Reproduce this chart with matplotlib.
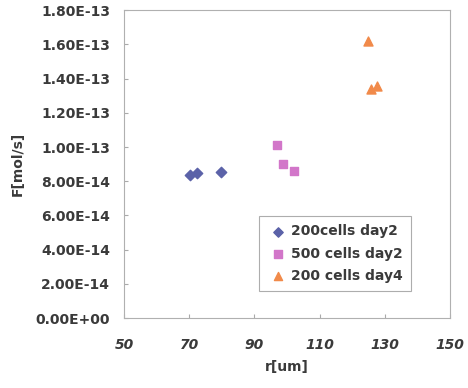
import numpy as np
import matplotlib
matplotlib.use("Agg")
import matplotlib.pyplot as plt
from matplotlib.ticker import FuncFormatter

# data
r_200_d2 = [70.3, 72.4, 79.7]
f_200_d2 = [8.35e-14, 8.5e-14, 8.52e-14]
r_500_d2 = [96.9, 98.8, 102.0]
f_500_d2 = [1.01e-13, 8.98e-14, 8.6e-14]
r_200_d4 = [124.8, 125.8, 127.6]
f_200_d4 = [1.62e-13, 1.34e-13, 1.355e-13]

labels = ["200cells day2", "500 cells day2", "200 cells day4"]
xticks = [50, 70, 90, 110, 130, 150]
yticks = np.arange(0, 1.81e-13, 2e-14)

txt = "#3a3a3a"
plt.rcParams["font.family"] = "DejaVu Sans"
plt.rcParams["font.weight"] = "bold"
plt.rcParams["axes.labelweight"] = "bold"


def sci(v, pos):
    if v <= 0:
        return "0.00E+00"
    e = int(np.floor(np.log10(v) + 1e-9))
    return "%.2fE%+03d" % (v / 10 ** e, e)


fig = plt.figure(figsize=(4.68, 3.88), dpi=100)
ax = fig.add_axes([0.265, 0.180, 0.697, 0.794])

ax.scatter(r_200_d2, f_200_d2, marker="D", s=28, color="#5b62a8", label=labels[0], zorder=3)
ax.scatter(r_500_d2, f_500_d2, marker="s", s=38, color="#d276c9", label=labels[1], zorder=3)
ax.scatter(r_200_d4, f_200_d4, marker="^", s=42, color="#f18a4a", label=labels[2], zorder=3)

ax.set_xlim(50, 150)
ax.set_ylim(0, 1.8e-13)
ax.set_xticks(xticks)
ax.set_yticks(yticks)
ax.yaxis.set_major_formatter(FuncFormatter(sci))
ax.tick_params(direction="in", length=3, color="#aaaaaa", labelcolor=txt, labelsize=10, pad=10)
ax.tick_params(axis="x", pad=14)
for lab in ax.get_xticklabels():
    lab.set_style("italic")
for s in ax.spines.values():
    s.set_color("#b0b0b0")
    s.set_linewidth(0.8)

ax.set_xlabel("r[um]", color=txt, fontsize=10, labelpad=6)
ax.set_ylabel("F[mol/s]", color=txt, fontsize=10, labelpad=8)

leg = ax.legend(loc="lower right", bbox_to_anchor=(0.9, 0.065), frameon=True, fancybox=False,
                edgecolor="#999999", fontsize=10, handletextpad=0.1, handlelength=1.6,
                borderpad=0.6, labelspacing=0.6, markerscale=0.9)
leg.get_frame().set_linewidth(0.8)
for t in leg.get_texts():
    t.set_color(txt)

plt.savefig("out.png", dpi=100)
